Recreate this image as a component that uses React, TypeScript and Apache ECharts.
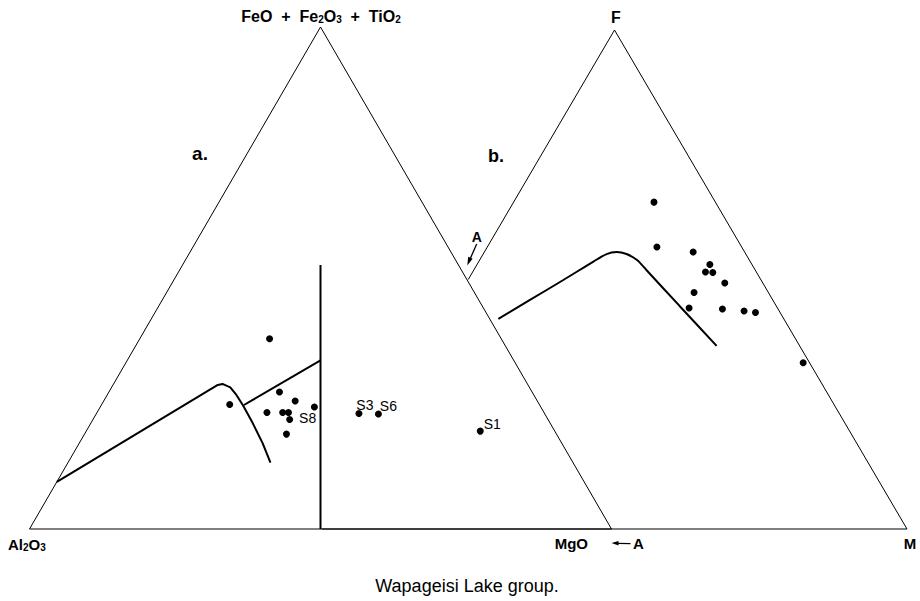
import React, { useEffect, useRef } from "react";
import * as echarts from "echarts";

// ---------- Diagram a: Al2O3 (left) – FeO+Fe2O3+TiO2 (top) – MgO (right); [Al2O3, FeOt, MgO] %
const A_VERTICES: number[][] = [
  [100, 0, 0],
  [0, 100, 0],
  [0, 0, 100],
  [100, 0, 0],
];
const A_SAMPLES: number[][] = [
  [39.8, 37.9, 22.3],
  [43.4, 27.3, 29.3],
  [41.6, 25.5, 32.9],
  [53.2, 24.8, 22.0],
  [38.9, 24.3, 36.8],
  [47.6, 23.2, 29.2],
  [44.9, 23.2, 31.9],
  [43.9, 23.2, 32.9],
  [44.4, 21.8, 33.8],
  [46.4, 18.9, 34.7],
  [31.9, 23.0, 45.1],
  [28.6, 22.9, 48.5],
  [12.8, 19.5, 67.7],
];
const A_SAMPLE_NAMES: string[] = ["", "", "", "", "", "", "", "", "S8", "", "S3", "S6", "S1"];
const A_BOUNDARY_CURVE: number[][] = [
  [90.6, 9.4, 0],
  [53.3, 28.7, 18.0],
  [52.4, 28.9, 18.7],
  [51.4, 28.2, 20.4],
  [51.1, 26.7, 22.2],
  [51.0, 24.7, 24.3],
  [51.1, 21.1, 27.8],
  [51.4, 17.1, 31.5],
  [52.0, 13.2, 34.8],
];
const A_BOUNDARY_BRANCH: number[][] = [
  [50.8, 24.7, 24.5],
  [33.2, 33.6, 33.2],
];
const A_DIVIDER: number[][] = [
  [23.7, 52.6, 23.7],
  [50, 0, 50],
];

// ---------- Diagram b: A (left) – F (top) – M (right); [A, F, M] %
const B_OUTLINE: number[][] = [
  [50, 50, 0],
  [0, 100, 0],
  [0, 0, 100],
  [100, 0, 0],
];
const B_SAMPLES: number[][] = [
  [10.5, 65.5, 24.0],
  [14.5, 56.5, 29.0],
  [8.8, 55.5, 35.7],
  [7.2, 53.0, 39.8],
  [8.7, 51.5, 39.8],
  [7.5, 51.4, 41.1],
  [6.5, 49.3, 44.2],
  [12.7, 47.4, 39.9],
  [15.1, 44.3, 40.6],
  [9.5, 44.1, 46.4],
  [6.0, 43.7, 50.3],
  [4.2, 43.4, 52.4],
  [1.1, 33.3, 65.6],
];
const B_BOUNDARY_CURVE: number[][] = [
  [48.8, 42.1, 9.1],
  [41.5, 45.9, 12.6],
  [33.8, 49.9, 16.3],
  [26.8, 53.6, 19.6],
  [23.8, 55.1, 21.1],
  [21.9, 55.5, 22.6],
  [20.4, 55.1, 24.5],
  [19.2, 53.9, 26.9],
  [18.6, 51.9, 29.5],
  [16.5, 44.6, 38.9],
  [14.2, 36.7, 49.1],
];

const FONT = '"Liberation Sans", Arial, Helvetica, sans-serif';

// ternary [left, top, right] -> cartesian in a unit triangle (x 0..1, y = top fraction)
const toXY = (t: number[]): number[] => [(t[2] + t[1] / 2) / 100, t[1] / 100];

const LABEL_OFFSETS: Record<string, number[]> = {
  S8: [18, -2],
  S3: [6, -9],
  S6: [10, -8],
  S1: [12, -7.5],
};

function lineSeries(data: number[][], idx: number, width: number, smooth: number | boolean = false) {
  return {
    type: "line",
    xAxisIndex: idx,
    yAxisIndex: idx,
    data: data.map(toXY),
    symbol: "none",
    clip: false,
    smooth,
    lineStyle: { color: "#000", width, opacity: 1 },
    silent: true,
  };
}

function scatterSeries(data: number[][], idx: number, names?: string[]) {
  return {
    type: "scatter",
    xAxisIndex: idx,
    yAxisIndex: idx,
    symbol: "circle",
    symbolSize: 7,
    clip: false,
    silent: true,
    itemStyle: { color: "#000", opacity: 1 },
    data: data.map((t, i) => {
      const name = names ? names[i] : "";
      const item: any = { value: toXY(t), name };
      if (name) {
        item.label = {
          show: true,
          position: "inside",
          offset: LABEL_OFFSETS[name] || [10, -8],
          formatter: name,
          color: "#000",
          opacity: 1,
          fontFamily: FONT,
          fontSize: 14,
        };
      }
      return item;
    }),
  };
}

function text(x: number, y: number, t: string, size: number, bold: boolean, align = "center", rich?: any) {
  return {
    type: "text",
    x,
    y,
    silent: true,
    style: {
      text: t,
      fill: "#000",
      fontFamily: FONT,
      fontSize: size,
      fontWeight: bold ? "bold" : "normal",
      align,
      verticalAlign: "middle",
      rich,
    },
  };
}

export default function App() {
  const ref = useRef<HTMLDivElement>(null);
  useEffect(() => {
    if (!ref.current) return;
    const chart = echarts.init(ref.current, undefined, { renderer: "svg" });
    const sub = { fontSize: 10, fontWeight: "bold", fontFamily: FONT, verticalAlign: "bottom", padding: [0, 0, 0, 0] };
    const big16 = { fontSize: 16, fontWeight: "bold", fontFamily: FONT };
    const big15 = { fontSize: 15, fontWeight: "bold", fontFamily: FONT };
    const NB = "\u00a0";
    chart.setOption({
      animation: false,
      backgroundColor: "#fff",
      grid: [
        { left: 29.5, top: 27, width: 582, height: 502 },
        { left: 322, top: 30, width: 585, height: 499 },
      ],
      xAxis: [
        { gridIndex: 0, type: "value", min: 0, max: 1, show: false },
        { gridIndex: 1, type: "value", min: 0, max: 1, show: false },
      ],
      yAxis: [
        { gridIndex: 0, type: "value", min: 0, max: 1, show: false },
        { gridIndex: 1, type: "value", min: 0, max: 1, show: false },
      ],
      series: [
        lineSeries(A_VERTICES, 0, 1),
        lineSeries(A_DIVIDER, 0, 2),
        lineSeries(A_BOUNDARY_CURVE, 0, 2),
        lineSeries(A_BOUNDARY_BRANCH, 0, 2),
        scatterSeries(A_SAMPLES, 0, A_SAMPLE_NAMES),
        lineSeries(B_OUTLINE, 1, 1),
        lineSeries(B_BOUNDARY_CURVE, 1, 2, 0.3),
        scatterSeries(B_SAMPLES, 1),
      ],
      graphic: [
        text(321, 16.5, `{b|FeO${NB}${NB}+${NB}${NB}Fe}{s|2}{b|O}{s|3}{b|${NB}${NB}+${NB}${NB}TiO}{s|2}`, 16, true, "center", { b: big16, s: sub }),
        text(200, 153.5, "a.", 19, true),
        text(496, 155.5, "b.", 18, true),
        text(616, 17.5, "F", 16, true),
        text(476.7, 237, "A", 14, true),
        text(8, 544.5, "{b|Al}{s|2}{b|O}{s|3}", 15, true, "left", { b: big15, s: sub }),
        text(571.3, 543.5, "MgO", 15, true),
        text(638.3, 543.5, "A", 15, true),
        text(910, 543.5, "M", 15, true),
        text(467, 585.5, "Wapageisi Lake group.", 18, false),
        // arrow to A (diagram b)
        { type: "line", silent: true, shape: { x1: 476.7, y1: 244, x2: 470.3, y2: 258.5 }, style: { stroke: "#000", lineWidth: 1.3 } },
        { type: "polygon", silent: true, shape: { points: [[467.3, 265.5], [472.6, 258.8], [468.2, 256.8]] }, style: { fill: "#000" } },
        // arrow at bottom ( <- A )
        { type: "line", silent: true, shape: { x1: 630.5, y1: 543.6, x2: 617, y2: 543.3 }, style: { stroke: "#000", lineWidth: 1.2 } },
        { type: "polygon", silent: true, shape: { points: [[611.5, 543], [618.5, 541], [618.5, 545.5]] }, style: { fill: "#000" } },
      ],
    });
    return () => chart.dispose();
  }, []);
  return (
    <div
      ref={ref}
      style={{ position: "absolute", left: 0, top: 0, width: 920, height: 601, background: "#fff" }}
    />
  );
}
